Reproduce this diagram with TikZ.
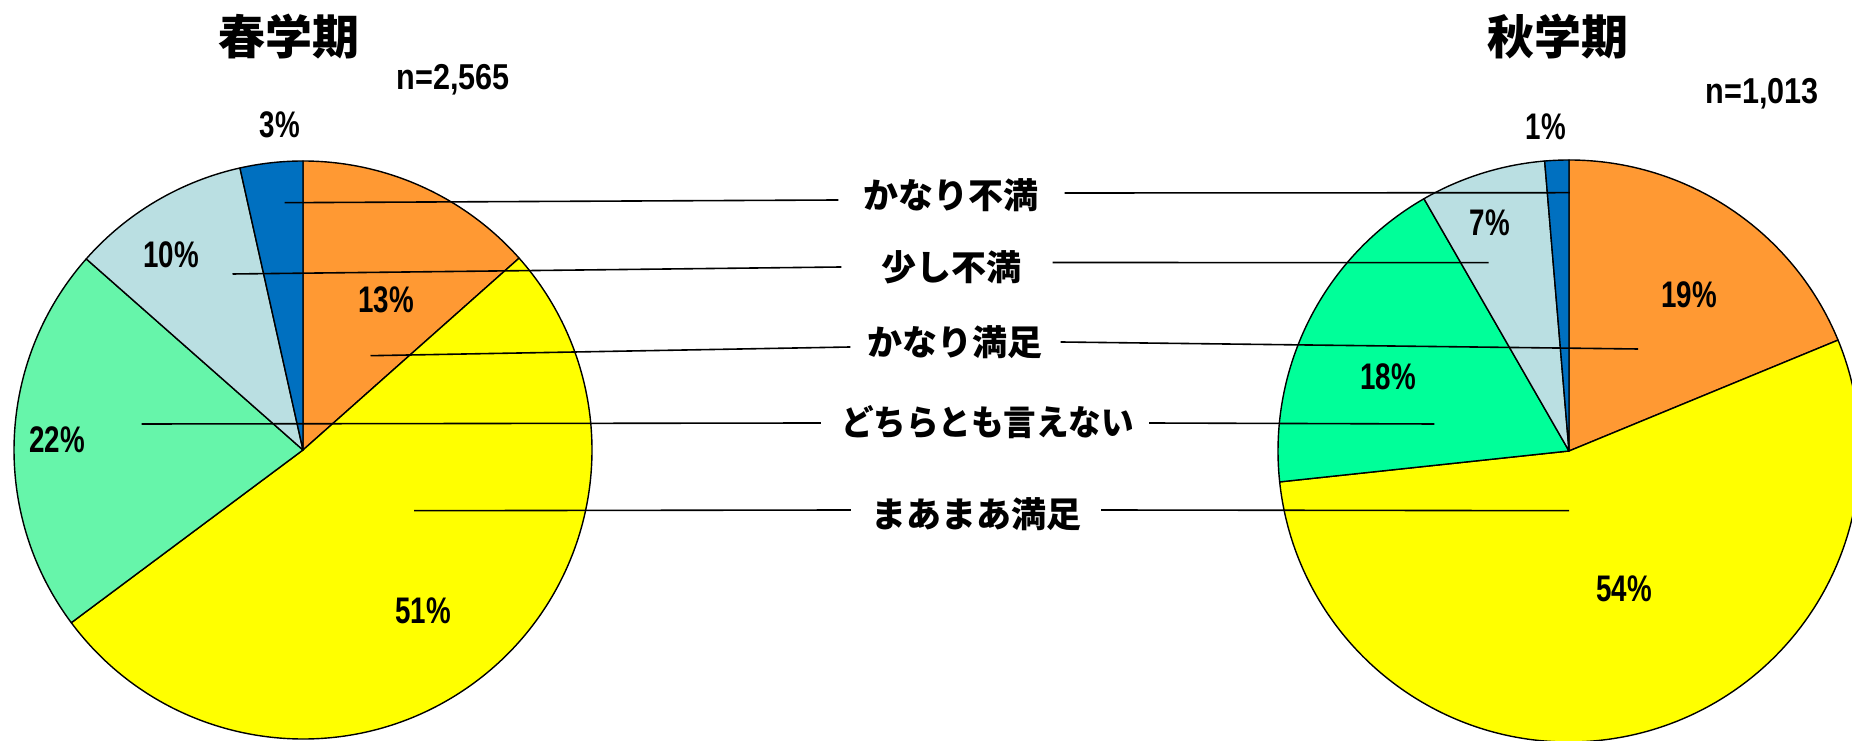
\documentclass[tikz,border=0pt]{standalone}
\usepackage{fontspec}
\newfontfamily\jpfont{Noto Sans CJK JP}
\newfontfamily\jpnarrow[FakeStretch=0.93]{Noto Sans CJK JP}
\newfontfamily\numfont[FakeStretch=0.75]{Liberation Sans}
\newfontfamily\cntfont[FakeStretch=0.85]{Liberation Sans}
\definecolor{cOrange}{HTML}{FF9933}
\definecolor{cYellow}{HTML}{FFFF00}
\definecolor{cGreenA}{HTML}{66F5AA}
\definecolor{cGreenB}{HTML}{00FF99}
\definecolor{cLight}{HTML}{BADFE2}
\definecolor{cBlue}{HTML}{0070C0}
\newcommand\mkslice[5]{\filldraw[slice,fill=#5] (#1) -- ++(#2:#4) arc[start angle=#2,end angle=#3,radius=#4] -- cycle;}
\begin{document}
\begin{tikzpicture}[x=1pt,y=1pt,
  slice/.style={draw=black,line width=1.4pt,line join=round},
  leader/.style={draw=black,line width=1.6pt},
  cat/.style={font=\jpfont\bfseries\fontsize{35}{40}\selectfont,inner sep=0pt},
  catnarrow/.style={font=\jpnarrow\bfseries\fontsize{35}{40}\selectfont,inner sep=0pt},
  pct/.style={font=\numfont\bfseries\fontsize{37}{40}\selectfont,inner sep=0pt},
  ttl/.style={font=\jpfont\bfseries\fontsize{47}{50}\selectfont,inner sep=0pt},
  cnt/.style={font=\cntfont\bfseries\fontsize{36}{40}\selectfont,inner sep=0pt}]
\useasboundingbox (0,0) rectangle (1852,741);
\clip (0,0) rectangle (1852,741);
\fill[white] (0,0) rectangle (1852,741);

% ---- left pie (spring)
\coordinate (Lc) at (303,291);
\mkslice{Lc}{41.6}{90}{289pt}{cOrange}
\mkslice{Lc}{-143.3}{41.6}{289pt}{cYellow}
\mkslice{Lc}{138.6}{216.7}{289pt}{cGreenA}
\mkslice{Lc}{102.6}{138.6}{289pt}{cLight}
\mkslice{Lc}{90}{102.6}{289pt}{cBlue}

% ---- right pie (autumn)
\coordinate (Rc) at (1569,290);
\mkslice{Rc}{22.4}{90}{291pt}{cOrange}
\mkslice{Rc}{-173.9}{22.4}{291pt}{cYellow}
\mkslice{Rc}{119.9}{186.1}{291pt}{cGreenB}
\mkslice{Rc}{94.8}{119.9}{291pt}{cLight}
\mkslice{Rc}{90}{94.8}{291pt}{cBlue}

% ---- titles and counts
\node[ttl] (t1) at (289,704) {春学期};
\node[ttl] (t2) at (1558,704) {秋学期};
\node[cnt] (n1) at (453,661) {n=2,565};
\node[cnt] (n2) at (1762,647) {n=1,013};

% ---- percentages
\node[pct] (p1a) at (280,616) {3\%};
\node[pct] (p1b) at (171,486) {10\%};
\node[pct] (p1c) at (386,441) {13\%};
\node[pct] (p1d) at (57,301) {22\%};
\node[pct] (p1e) at (423,130) {51\%};
\node[pct] (p2a) at (1546,614) {1\%};
\node[pct] (p2b) at (1490,518) {7\%};
\node[pct] (p2c) at (1689,446) {19\%};
\node[pct] (p2d) at (1388,364) {18\%};
\node[pct] (p2e) at (1624,152) {54\%};

% ---- category labels
\node[cat] (k1) at (951,546) {かなり不満};
\node[cat] (k2) at (951.5,474) {少し不満};
\node[cat] (k3) at (955,399) {かなり満足};
\node[catnarrow] (k4) at (987.5,319) {どちらとも言えない};
\node[cat] (k5) at (976,227) {まあまあ満足};

% ---- leader end points inside the pies
\coordinate (a1) at (284.7,538.3);
\coordinate (a2) at (232.5,467);
\coordinate (a3) at (370.5,385.3);
\coordinate (a4) at (141.6,317);
\coordinate (a5) at (414,230.3);
\coordinate (b1) at (1569.8,548.3);
\coordinate (b2) at (1488.6,478.3);
\coordinate (b3) at (1638.1,392);
\coordinate (b4) at (1434.4,317);
\coordinate (b5) at (1569,230.3);

% ---- leaders
\draw[leader] (a1) -- ([xshift=-25pt,yshift=-5pt]k1.west);
\draw[leader] ([xshift=26pt,yshift=2pt]k1.east) -- (b1);
\draw[leader] (a2) -- ([xshift=-40pt]k2.west);
\draw[leader] ([xshift=31pt,yshift=4.5pt]k2.east) -- (b2);
\draw[leader] (a3) -- ([xshift=-17pt,yshift=-5pt]k3.west);
\draw[leader] ([xshift=18pt]k3.east) -- (b3);
\draw[leader] (a4) -- ([xshift=-20pt,yshift=-1pt]k4.west);
\draw[leader] ([xshift=15pt,yshift=-1pt]k4.east) -- (b4);
\draw[leader] (a5) -- ([xshift=-20pt,yshift=4pt]k5.west);
\draw[leader] ([xshift=20pt,yshift=4pt]k5.east) -- (b5);
\end{tikzpicture}
\end{document}
